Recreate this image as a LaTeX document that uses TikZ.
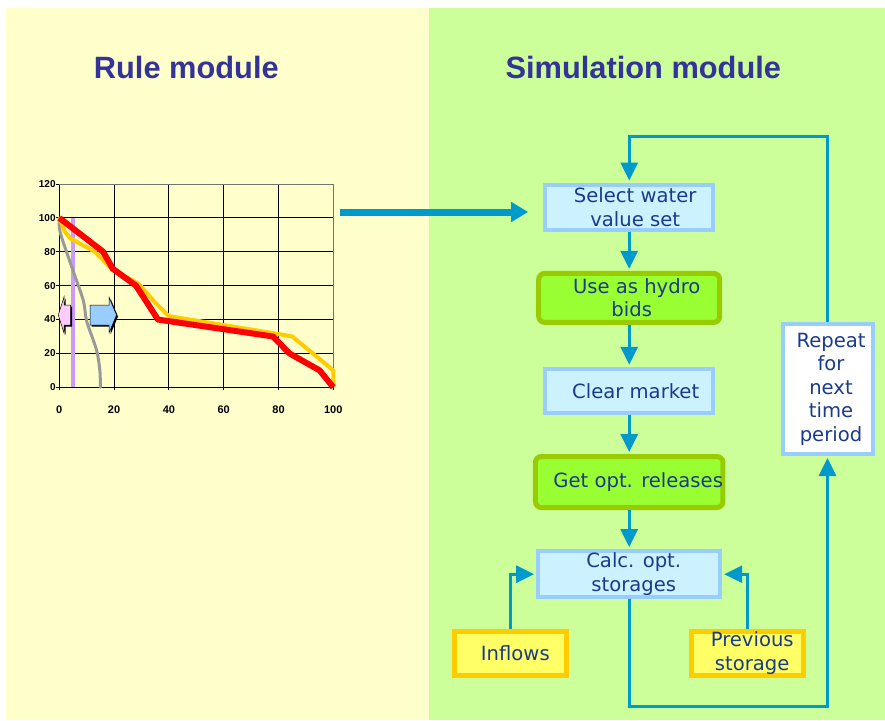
\documentclass[tikz,border=0pt]{standalone}
\usepackage{fontspec}
\setmainfont{DejaVu Sans}
\newfontfamily\arialfont{Liberation Sans}
\newfontfamily\flowfont{DejaVu Sans}
\usetikzlibrary{arrows.meta}
\definecolor{leftbg}{HTML}{FFFFCC}
\definecolor{rightbg}{HTML}{CCFF99}
\definecolor{titleblue}{HTML}{333399}
\definecolor{txtblue}{HTML}{1A3A8C}
\definecolor{flowblue}{HTML}{0099CC}
\definecolor{boxborder}{HTML}{99CCFF}
\definecolor{boxfill}{HTML}{CCF2FF}
\definecolor{greenborder}{HTML}{99CC00}
\definecolor{greenfill}{HTML}{99FF33}
\definecolor{yelborder}{HTML}{FFCC00}
\definecolor{yelfill}{HTML}{FFFF66}
\definecolor{redcurve}{HTML}{FF0000}
\definecolor{yelcurve}{HTML}{FFCC00}
\definecolor{graycurve}{HTML}{999999}
\definecolor{purpleline}{HTML}{CC99FF}
\definecolor{pinkarrow}{HTML}{FFCCFF}
\definecolor{bluearrow}{HTML}{99CCFF}
\newcommand\padl[1]{\hspace*{#1}}
\begin{document}
\begin{tikzpicture}[x=1pt,y=-1pt,
  title/.style={text=titleblue, font=\arialfont\bfseries\fontsize{30.8}{36}\selectfont, inner sep=0pt},
  yticklab/.style={font=\arialfont\bfseries\fontsize{10}{11}\selectfont, inner sep=0pt},
  xticklab/.style={font=\arialfont\bfseries\fontsize{11}{12}\selectfont, inner sep=0pt},
  gridline/.style={draw=black, line width=0.9pt},
  flowtext/.style={text=txtblue, align=center, inner sep=0pt, font=\flowfont\fontsize{19.6}{23.5}\selectfont},
  bluebox/.style={flowtext, draw=boxborder, fill=boxfill, line width=4pt},
  greenbox/.style={flowtext, draw=greenborder, fill=greenfill, line width=5pt, rounded corners=6pt},
  yelbox/.style={flowtext, draw=yelborder, fill=yelfill, line width=5pt},
  whitebox/.style={flowtext, draw=boxborder, fill=white, line width=4pt},
  flowarrow/.style={draw=flowblue, line width=3pt, -{Triangle[length=18pt,width=17pt]}, shorten >=2pt},
  flowline/.style={draw=flowblue, line width=3pt}
]
\useasboundingbox (0,0) rectangle (885,720);
% backgrounds
\fill[leftbg] (6,8) rectangle (429,720);
\fill[rightbg] (429,8) rectangle (885,720);

% titles
\node[title, anchor=base] (ruletitle) at (186.3,78.3) {Rule module};
\node[title, anchor=base] (simtitle) at (643.3,78.3) {Simulation module};

% chart
\begin{scope}[shift={(59.3,387.3)}, x=2.74pt, y=1.694pt]
  \foreach \i in {0,20,...,80} \draw[gridline] (\i,0) -- (\i,120);
  \foreach \j in {0,20,...,100} \draw[gridline] (0,\j) -- (100,\j);
  \draw[draw=black!55, line width=0.9pt] (0,120) -- (100,120) -- (100,0);
  \foreach \j in {0,20,...,120} {
    \draw[gridline] (0,\j) -- ++(-3pt,0);
    \node[yticklab, anchor=east] (yl\j) at ([xshift=-3.5pt]0,\j) {\j};
  }
  \foreach \i in {0,20,...,100} {
    \draw[gridline] (\i,0) -- ++(0,-3pt);
    \node[xticklab] (xl\i) at ([yshift=-22pt]\i,0) {\i};
  }
  \draw[purpleline, line width=4pt] (5,0) -- (5,100);
  \draw[graycurve, line width=3pt, line cap=round] plot[smooth, tension=0.5] coordinates
    {(0,100) (0.4,91) (5,69) (8.8,51) (10,39) (13.6,22) (14.8,10) (15,0)};
  \draw[yelcurve, line width=4pt, line join=round] (0,100) -- (2,92) -- (4,88) -- (13,80) -- (19,70)
    -- (29,61) -- (35,50) -- (40,42) -- (78,32) -- (85,30) -- (100,10) -- (100,0);
  \draw[redcurve, line width=6pt, line join=round] (0,100) -- (16,80) -- (19.5,70) -- (28,60)
    -- (36,40) -- (78,30) -- (84,20) -- (95,10) -- (100,0);
\end{scope}

% small block arrows
\fill[black] ([shift={(1.5,1.5)}]58.3,315) -- ([shift={(1.5,1.5)}]64,297) -- ([shift={(1.5,1.5)}]64,305)
  -- ([shift={(1.5,1.5)}]70.7,305) -- ([shift={(1.5,1.5)}]70.7,325) -- ([shift={(1.5,1.5)}]64,325)
  -- ([shift={(1.5,1.5)}]64,333) -- cycle;
\filldraw[fill=pinkarrow, draw=black, line width=0.5pt] (58.3,315) -- (64,297) -- (64,305) -- (70.7,305)
  -- (70.7,325) -- (64,325) -- (64,333) -- cycle;
\fill[black] ([shift={(1.5,1.5)}]90,305) -- ([shift={(1.5,1.5)}]109,305) -- ([shift={(1.5,1.5)}]109,297)
  -- ([shift={(1.5,1.5)}]116.5,315) -- ([shift={(1.5,1.5)}]109,333) -- ([shift={(1.5,1.5)}]109,325)
  -- ([shift={(1.5,1.5)}]90,325) -- cycle;
\filldraw[fill=bluearrow, draw=black, line width=0.5pt] (90,305) -- (109,305) -- (109,297) -- (116.5,315)
  -- (109,333) -- (109,325) -- (90,325) -- cycle;

% flowchart nodes
\node[bluebox, minimum width=168pt, minimum height=45pt] (sel) at (629.2,207)
  {\padl{12pt}Select water\\\padl{12pt}value set};
\node[greenbox, minimum width=181pt, minimum height=49pt] (use) at (629.2,297.9)
  {\padl{15pt}Use as hydro\\\padl{5pt}bids};
\node[bluebox, minimum width=168pt, minimum height=44pt] (clr) at (629.2,390.8)
  {\padl{13pt}Clear market};
\node[greenbox, minimum width=181pt, minimum height=51pt] (get) at (629.2,482)
  {\padl{18pt}Get opt. releases};
\node[bluebox, minimum width=182pt, minimum height=46pt] (calc) at (629.2,574.2)
  {\padl{9pt}Calc. opt.\\\padl{9pt}storages};
\node[yelbox, minimum width=112pt, minimum height=44pt] (inf) at (510.3,653)
  {\padl{10pt}Inflows};
\node[yelbox, minimum width=112pt, minimum height=44pt] (prev) at (747.2,653)
  {\padl{10pt}Previous\\\padl{10pt}storage};
\node[whitebox, minimum width=90pt, minimum height=130pt] (rep) at (827.5,389)
  {\padl{7pt}Repeat\\\padl{7pt}for\\\padl{7pt}next\\\padl{7pt}time\\\padl{7pt}period};

% connectors
\coordinate (chartend) at (340,212);
\coordinate (looptop) at (700,136);
\coordinate (loopbot) at (700,706.7);
\draw[draw=flowblue, line width=7pt, -{Triangle[length=17pt,width=19pt]}, shorten >=15pt]
  (chartend) -- (chartend -| sel.west);
\draw[flowarrow] (sel) -- (use);
\draw[flowarrow] (use) -- (clr);
\draw[flowarrow] (clr) -- (get);
\draw[flowarrow] (get) -- (calc);
\draw[flowarrow] (rep.north) -- (looptop -| rep.north) -| (sel.north);
\draw[flowarrow] (calc.south) -- (loopbot -| calc.south) -| (rep.south);
\draw[flowarrow] (inf.north) |- (calc.west);
\draw[flowarrow] (prev.north) |- (calc.east);
\end{tikzpicture}
\end{document}
